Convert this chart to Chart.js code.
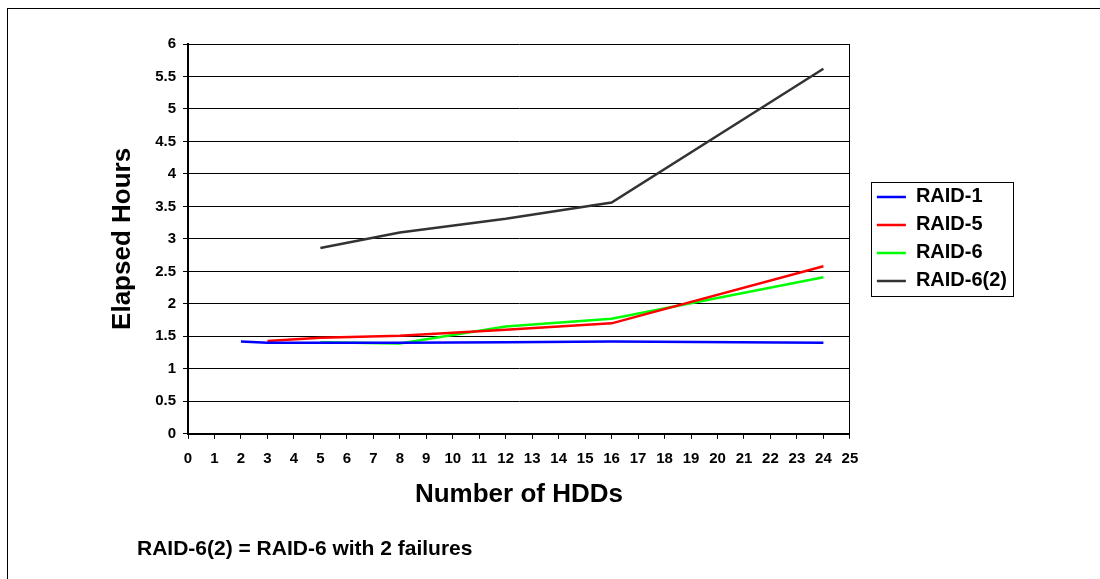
<!DOCTYPE html>
<html>
<head>
<meta charset="utf-8">
<script src="https://cdn.jsdelivr.net/npm/chart.js@4"></script>
<style>
  body { margin: 0; background: #fff; }
  #wrap { position: relative; width: 1100px; height: 579px; overflow: hidden; }
  #frame { position: absolute; left: 7px; top: 8px; width: 1093px; height: 571px;
           border-top: 1px solid #000; border-left: 1px solid #000; }
  #chart { position: absolute; left: 0; top: 0; }
  #note { position: absolute; left: 137px; top: 536px; font: bold 21px "Liberation Sans", Arial, sans-serif; color: #000; }
</style>
</head>
<body>
<div id="wrap">
  <div id="frame"></div>
  <canvas id="chart" width="1100" height="579"></canvas>
  <div id="note">RAID-6(2) = RAID-6 with 2 failures</div>
</div>
<script>
const raid1Hdds = [2, 3, 5, 8, 12, 16, 24];
const raid1Hours = [1.42, 1.40, 1.40, 1.40, 1.41, 1.42, 1.40];
const raid5Hdds = [3, 5, 8, 12, 16, 24];
const raid5Hours = [1.43, 1.48, 1.51, 1.60, 1.70, 2.58];
const raid6Hdds = [5, 8, 12, 16, 24];
const raid6Hours = [1.41, 1.39, 1.65, 1.77, 2.41];
const raid62Hdds = [5, 8, 12, 16, 24];
const raid62Hours = [2.86, 3.10, 3.31, 3.56, 5.62];

const font = '"Liberation Sans", Arial, sans-serif';
const pts = (xs, ys) => xs.map((x, i) => ({x: x, y: ys[i]}));

const line = (label, xs, ys, color) => ({
    label: label,
    data: pts(xs, ys),
    borderColor: color,
    backgroundColor: color,
    borderWidth: 2.5,
    pointRadius: 0,
    tension: 0,
});

// box around the legend entries
const legendBox = {
    id: 'legendBox',
    afterDraw(chart) {
        const boxes = chart.legend.legendHitBoxes;
        if (!boxes || !boxes.length) return;
        let l = Infinity, t = Infinity, r = -Infinity, b = -Infinity;
        boxes.forEach(h => {
            l = Math.min(l, h.left); t = Math.min(t, h.top);
            r = Math.max(r, h.left + h.width); b = Math.max(b, h.top + h.height);
        });
        const ctx = chart.ctx;
        ctx.save();
        ctx.strokeStyle = '#000';
        ctx.lineWidth = 1;
        ctx.strokeRect(Math.round(l - 6) + 0.5, Math.round(t - 5) + 0.5, Math.round(r - l + 12), Math.round(b - t + 10));
        ctx.restore();
    }
};

new Chart(document.getElementById('chart'), {
    type: 'line',
    data: {
        datasets: [
            line('RAID-1', raid1Hdds, raid1Hours, '#0000ff'),
            line('RAID-5', raid5Hdds, raid5Hours, '#ff0000'),
            line('RAID-6', raid6Hdds, raid6Hours, '#00ff00'),
            line('RAID-6(2)', raid62Hdds, raid62Hours, '#333333'),
        ]
    },
    options: {
        responsive: false,
        animation: false,
        devicePixelRatio: 1,
        layout: { padding: { left: 90, top: 44, right: 83, bottom: 69 } },
        plugins: {
            tooltip: { enabled: false },
            legend: {
                position: 'right',
                fullSize: false,
                labels: {
                    usePointStyle: true,
                    pointStyle: 'line',
                    pointStyleWidth: 29,
                    padding: 8,
                    color: '#000',
                    font: { family: font, size: 20, weight: 'bold' },
                }
            }
        },
        scales: {
            x: {
                type: 'linear',
                min: 0,
                max: 25,
                ticks: { stepSize: 1, padding: 11, color: '#000', font: { family: font, size: 15, weight: 'bold' } },
                grid: { drawOnChartArea: false, drawTicks: true, tickLength: 5, color: '#000' },
                border: { color: '#000', width: 2 },
                title: {
                    display: true,
                    text: 'Number of HDDs',
                    color: '#000',
                    font: { family: font, size: 26, weight: 'bold' },
                    padding: { top: 0, bottom: 0 },
                },
            },
            y: {
                min: 0,
                max: 6,
                ticks: {
                    stepSize: 0.5,
                    padding: 7,
                    color: '#000',
                    font: { family: font, size: 15, weight: 'bold' },
                    callback: v => String(v),
                },
                grid: { color: '#000', lineWidth: 1, tickLength: 5 },
                border: { color: '#000', width: 2 },
                title: {
                    display: true,
                    text: 'Elapsed Hours',
                    color: '#000',
                    font: { family: font, size: 26, weight: 'bold' },
                    padding: { top: 17, bottom: 0 },
                },
                afterFit: s => { s.width = 98; },
            },
            yR: {
                position: 'right',
                min: 0,
                max: 6,
                ticks: { display: false },
                grid: { display: false },
                border: { color: '#000', width: 1 },
                afterFit: s => { s.width = 19; },
            }
        }
    },
    plugins: [legendBox]
});
</script>
</body>
</html>
